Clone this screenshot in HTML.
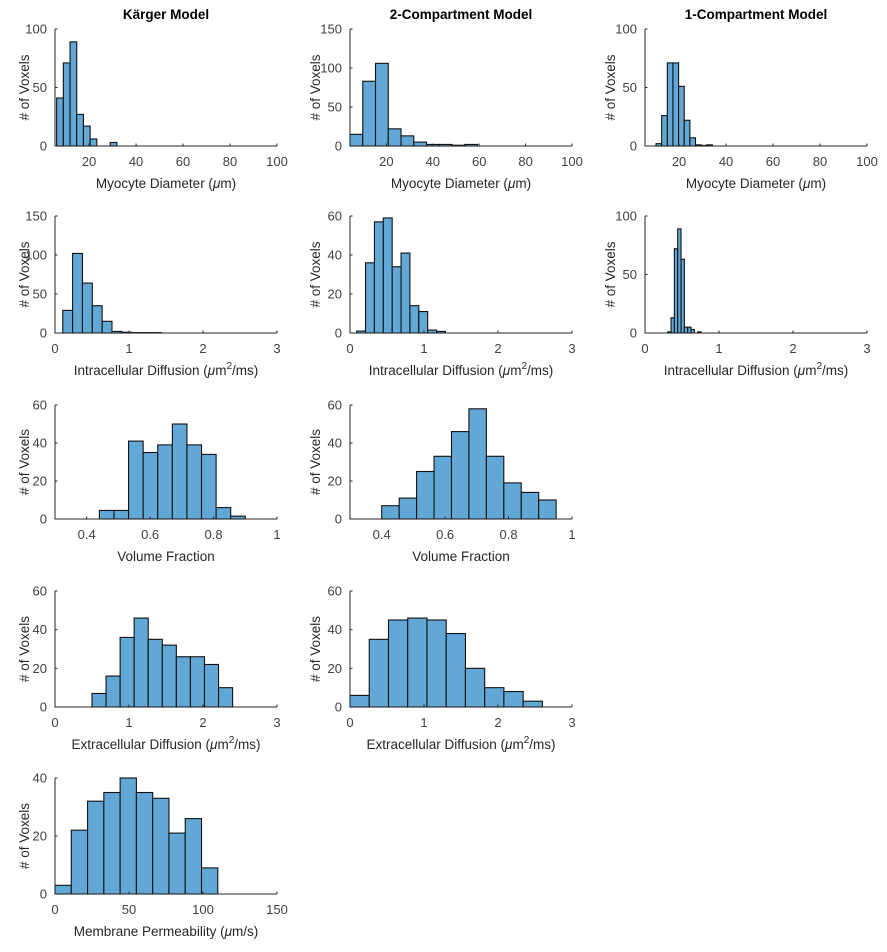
<!DOCTYPE html>
<html><head><meta charset="utf-8"><style>
body{margin:0;background:#fff;}
svg{display:block;font-family:"Liberation Sans",Arial,sans-serif;}
.tk{font-size:13px;fill:#404040;}
.lb{font-size:13.5px;fill:#262626;}
.tt{font-size:13.5px;font-weight:bold;fill:#000;}
</style></head><body>
<svg id="fig" width="887" height="952" viewBox="0 0 887 952"></svg>
<script>
// Panel data: bin starts, bin widths and counts
const kargerDiamCounts = [41,71,89,27,17,6,0,0,3];
const twoDiamCounts = [15,83,106,22,13,5,2,2,1,2];
const oneDiamCounts = [2,26,71,71,51,22,7,1,0.5,1];
const kargerIntraCounts = [29,102,64,35,15,2,1,0.5,0.5,0.5];
const twoIntraCounts = [1,36,57,59,34,41,14,11,1.5,0.8];
const oneIntraCounts = [1,13,72,89,63,5,5,3,0,1];
const kargerVfCounts = [4.5,4.5,41,35,39,50,39,34,6,1.5];
const twoVfCounts = [7,11,25,33,46,58,33,19,14,10];
const kargerExtraCounts = [7,16,36,46,35,32,26,26,22,10];
const twoExtraCounts = [6,35,45,46,45,38,20,10,8,3];
const permCounts = [3,22,32,35,40,35,33,21,26,9];
const diamTicks = [20,40,60,80,100];
const diffTicks = [0,1,2,3];
const vfTicks = [0.4,0.6,0.8,1];
const permTicks = [0,50,100,150];

const NS="http://www.w3.org/2000/svg";
const svg=document.getElementById('fig');
function mk(tag,attrs,parent){const e=document.createElementNS(NS,tag);for(const k in attrs)e.setAttribute(k,attrs[k]);(parent||svg).appendChild(e);return e;}

const colX=[[55,277],[350,572],[645,867]];
const rowY=[[29,146],[216,333],[405,519],[591,707],[778,894]];
const ylabX=[24,315,610];
const diffLabel='Intracellular Diffusion (<tspan font-style="italic">μ</tspan>m<tspan dy="-6" font-size="10">2</tspan><tspan dy="6">/ms)</tspan>';
const extraLabel='Extracellular Diffusion (<tspan font-style="italic">μ</tspan>m<tspan dy="-6" font-size="10">2</tspan><tspan dy="6">/ms)</tspan>';

const panels=[
 {r:0,c:0,name:'karger-diameter',x0:5.5,x1:100,ymax:100,yt:[0,50,100],xt:diamTicks,start:6.2,w:2.85,counts:kargerDiamCounts,xl:'Myocyte Diameter (<tspan font-style="italic">μ</tspan>m)',title:'Kärger Model'},
 {r:0,c:1,name:'two-comp-diameter',x0:4.3,x1:100,ymax:150,yt:[0,50,100,150],xt:diamTicks,start:4.3,w:5.5,counts:twoDiamCounts,xl:'Myocyte Diameter (<tspan font-style="italic">μ</tspan>m)',title:'2-Compartment Model'},
 {r:0,c:2,name:'one-comp-diameter',x0:5.5,x1:100,ymax:100,yt:[0,50,100],xt:diamTicks,start:10.2,w:2.4,counts:oneDiamCounts,xl:'Myocyte Diameter (<tspan font-style="italic">μ</tspan>m)',title:'1-Compartment Model'},
 {r:1,c:0,name:'karger-intracellular',x0:0,x1:3,ymax:150,yt:[0,50,100,150],xt:diffTicks,start:0.105,w:0.133,counts:kargerIntraCounts,xl:diffLabel},
 {r:1,c:1,name:'two-comp-intracellular',x0:0,x1:3,ymax:60,yt:[0,20,40,60],xt:diffTicks,start:0.09,w:0.12,counts:twoIntraCounts,xl:diffLabel},
 {r:1,c:2,name:'one-comp-intracellular',x0:0,x1:3,ymax:100,yt:[0,50,100],xt:diffTicks,start:0.307,w:0.045,counts:oneIntraCounts,xl:diffLabel},
 {r:2,c:0,name:'karger-volume-fraction',x0:0.3,x1:1,ymax:60,yt:[0,20,40,60],xt:vfTicks,start:0.44,w:0.046,counts:kargerVfCounts,xl:'Volume Fraction'},
 {r:2,c:1,name:'two-comp-volume-fraction',x0:0.3,x1:1,ymax:60,yt:[0,20,40,60],xt:vfTicks,start:0.4,w:0.055,counts:twoVfCounts,xl:'Volume Fraction'},
 {r:3,c:0,name:'karger-extracellular',x0:0,x1:3,ymax:60,yt:[0,20,40,60],xt:diffTicks,start:0.5,w:0.19,counts:kargerExtraCounts,xl:extraLabel},
 {r:3,c:1,name:'two-comp-extracellular',x0:0,x1:3,ymax:60,yt:[0,20,40,60],xt:diffTicks,start:0,w:0.26,counts:twoExtraCounts,xl:extraLabel},
 {r:4,c:0,name:'karger-permeability',x0:0,x1:150,ymax:40,yt:[0,20,40],xt:permTicks,start:0,w:11,counts:permCounts,xl:'Membrane Permeability (<tspan font-style="italic">μ</tspan>m/s)'}
];

panels.forEach(p=>{
  const [L,R]=colX[p.c],[T,B]=rowY[p.r];
  const g=mk('g',{});
  
  
  const sx=v=>L+(v-p.x0)/(p.x1-p.x0)*(R-L);
  const sy=v=>B-v/p.ymax*(B-T);
  p.counts.forEach((c,i)=>{
    const xa=sx(p.start+i*p.w),xb=sx(p.start+(i+1)*p.w);
    const r=mk('rect',{x:xa,y:sy(c),width:xb-xa,height:B-sy(c),fill:'#62A8D7',stroke:'#111','stroke-width':1.1},g);
    
    
  });
  const ax=mk('path',{d:`M${L},${T}V${B}H${R}`,fill:'none',stroke:'#262626','stroke-width':1},g);
  
  
  p.yt.forEach(v=>{
    mk('line',{x1:L,x2:L+2.5,y1:sy(v),y2:sy(v),stroke:'#262626'},g);
    const t=mk('text',{x:L-8,y:sy(v)+4.5,'text-anchor':'end',class:'tk'},g);t.textContent=v;
    
    
  });
  p.xt.forEach(v=>{
    mk('line',{x1:sx(v),x2:sx(v),y1:B,y2:B-2.5,stroke:'#262626'},g);
    const t=mk('text',{x:sx(v),y:B+20,'text-anchor':'middle',class:'tk'},g);t.textContent=v;
    
    
  });
  const xl=mk('text',{x:(L+R)/2,y:B+42,'text-anchor':'middle',class:'lb'},g);xl.innerHTML=p.xl;
  
  
  const yx=ylabX[p.c],yy=(T+B)/2;
  const yl=mk('text',{x:yx,y:yy,'text-anchor':'middle',class:'lb',transform:`rotate(-90 ${yx} ${yy})`,dy:'5'},g);yl.textContent='# of Voxels';
  
  
  if(p.title){
    const tt=mk('text',{x:(L+R)/2,y:T-10,'text-anchor':'middle',class:'tt'},g);tt.textContent=p.title;
    
    
  }
});
</script>
</body></html>
